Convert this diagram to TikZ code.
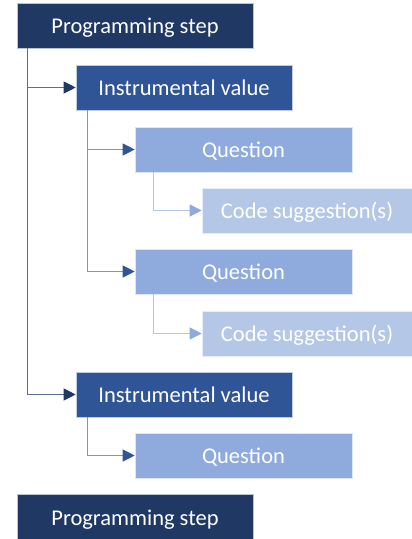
\documentclass[tikz,border=0pt]{standalone}
\usepackage{fontspec}
\setmainfont{Carlito}
\usetikzlibrary{arrows.meta}
\definecolor{psc}{HTML}{203864}
\definecolor{ivc}{HTML}{2F5597}
\definecolor{qc}{HTML}{8FAADC}
\definecolor{csc}{HTML}{B4C7E7}
\definecolor{psl}{HTML}{5B6E91}
\definecolor{ivl}{HTML}{7F95C0}
\definecolor{ql}{HTML}{B4C7E7}
\tikzset{
  box/.style={rectangle, minimum height=45pt, inner sep=0pt, text=white,
    text height=20pt, text depth=4pt,
    font=\fontsize{22.5}{27}\selectfont, draw=white!70!#1, line width=0.6pt, fill=#1},
  psbox/.style={box=psc, minimum width=236pt},
  ivbox/.style={box=ivc, minimum width=216pt},
  qbox/.style={box=qc, minimum width=217pt},
  csbox/.style={box=csc, minimum width=210pt},
  pslink/.style={draw=psl, line width=1pt, -{Triangle[length=12pt,width=12pt,color=psc,fill=psc]}},
  ivlink/.style={draw=ivl, line width=1pt, -{Triangle[length=12pt,width=12pt,color=ivc,fill=ivc]}},
  qlink/.style={draw=ql, line width=1pt, -{Triangle[length=12pt,width=12pt,color=qc,fill=qc]}},
}
\begin{document}
\begin{tikzpicture}[x=1pt,y=1pt]
\useasboundingbox (0,0) rectangle (412,-539);
\node[psbox] (ps1) at (135,-25.5) {Programming step};
\node[ivbox] (iv1) at (184,-87.5) {Instrumental value};
\node[qbox] (q1) at (243.5,-149.5) {Question};
\node[csbox] (cs1) at (307,-210.5) {Code suggestion(s)};
\node[qbox] (q2) at (243.5,-271.5) {Question};
\node[csbox] (cs2) at (307,-333.5) {Code suggestion(s)};
\node[ivbox] (iv2) at (184,-394.5) {Instrumental value};
\node[qbox] (q3) at (243.5,-455.5) {Question};
\node[psbox] (ps2) at (135,-517) {Programming step};

\draw[pslink] (ps1.south west) ++(11,0) |- (iv1.west);
\draw[pslink] (ps1.south west) ++(11,0) |- (iv2.west);
\draw[ivlink] (iv1.south west) ++(12,0) |- (q1.west);
\draw[ivlink] (iv1.south west) ++(12,0) |- (q2.west);
\draw[ivlink] (iv2.south west) ++(12,0) |- (q3.west);
\draw[qlink] (q1.south west) ++(19,0) |- (cs1.west);
\draw[qlink] (q2.south west) ++(19,0) |- (cs2.west);
\end{tikzpicture}
\end{document}
